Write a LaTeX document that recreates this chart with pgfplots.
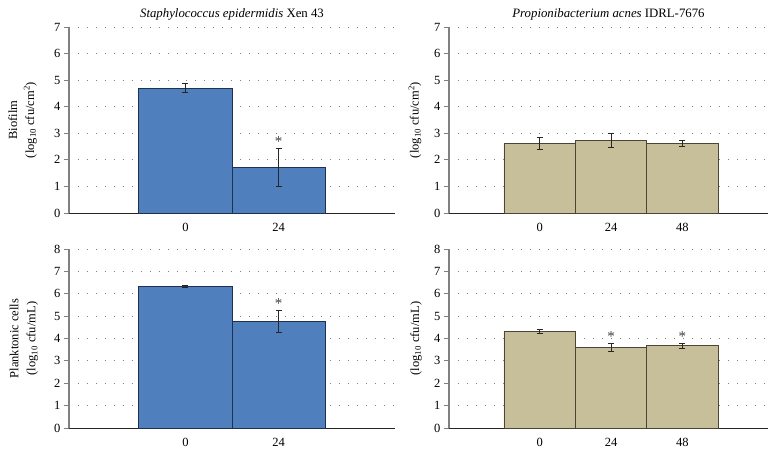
\documentclass[border=0pt]{standalone}
\usepackage{pgfplots}
\pgfplotsset{compat=1.18}
\usepackage{fontspec}
\setmainfont{Liberation Serif}
\definecolor{sblue}{HTML}{4F7FBD}
\definecolor{sblueedge}{HTML}{1F3050}
\definecolor{stan}{HTML}{C6BF9A}
\definecolor{stanedge}{HTML}{4A4535}

\pgfplotsset{
  panel/.style={
    scale only axis,
    axis lines=left,
    ymin=0, ytick distance=1,
    ymajorgrids,
    major grid style={draw=gray, line width=0.8pt, dash pattern=on 0.8pt off 8.2pt},
    tick align=outside, major tick length=5pt,
    ytick style={gray, line width=1pt},
    xtick style={draw=none},
    y axis line style={-, gray, line width=1.3pt},
    x axis line style={-, black!85, line width=1pt},
    tick label style={font=\fontsize{12.5}{14}\selectfont},
    xticklabel style={yshift=-2pt},
    /pgf/number format/assume math mode=true,
    ylabel style={rotate=0, anchor=center, align=center, font=\fontsize{12.5}{17}\selectfont},
    title style={at={(axis description cs:0.5,1)}, anchor=base, yshift=4pt, font=\fontsize{12.8}{14}\selectfont},
    clip=false,
  },
  ast/.style={draw=none, mark=none, nodes near coords={*},
    every node near coord/.style={anchor=south, inner sep=0pt, yshift=1.5pt, font=\fontsize{15}{16}\selectfont, black!75}},
  ebar/.style={error bars/.cd, y dir=both, y explicit,
    error bar style={black!85, line width=0.9pt},
    error mark options={black!85, line width=0.9pt, mark size=3pt, rotate=90}},
}

\begin{document}
\begin{tikzpicture}[x=1pt,y=1pt]
\useasboundingbox (0,0) rectangle (780,451);

% top left
\begin{axis}[panel, at={(69pt,238pt)}, anchor=south west,
  width=326pt, height=186pt, xmin=-1.25, xmax=2.25, ymax=7,
  xtick={0,1}, xticklabels={0,24},
  title={\textit{Staphylococcus epidermidis} Xen 43},
  ylabel={Biofilm\\(log\textsubscript{10} cfu/cm\textsuperscript{2})},
  ylabel style={at={(axis description cs:-0.1426,0.5)}}]
\addplot[ybar, bar width=1, bar shift=0, fill=sblue, draw=sblueedge, line width=0.8pt, ebar]
  coordinates {(0,4.69) +- (0,0.17) (1,1.72) +- (0,0.72)};
\addplot[ast] coordinates {(1,2.44)};
\end{axis}

% top right
\begin{axis}[panel, at={(449pt,238pt)}, anchor=south west,
  width=319pt, height=186pt, xmin=-1.27, xmax=3.2, ymax=7,
  xtick={0,1,2}, xticklabels={0,24,48},
  title={\textit{Propionibacterium acnes} IDRL-7676},
  ylabel={(log\textsubscript{10} cfu/cm\textsuperscript{2})},
  ylabel style={at={(axis description cs:-0.1066,0.5)}}]
\addplot[ybar, bar width=1, bar shift=0, fill=stan, draw=stanedge, line width=0.8pt, ebar]
  coordinates {(0,2.63) +- (0,0.22) (1,2.72) +- (0,0.26) (2,2.61) +- (0,0.11)};
\end{axis}

% bottom left
\begin{axis}[panel, at={(69pt,23pt)}, anchor=south west,
  width=326pt, height=179pt, xmin=-1.25, xmax=2.25, ymax=8,
  xtick={0,1}, xticklabels={0,24},
  ylabel={Planktonic cells\\(log\textsubscript{10} cfu/mL)},
  ylabel style={at={(axis description cs:-0.138,0.5)}}]
\addplot[ybar, bar width=1, bar shift=0, fill=sblue, draw=sblueedge, line width=0.8pt, ebar]
  coordinates {(0,6.33) +- (0,0.03) (1,4.75) +- (0,0.5)};
\addplot[ast] coordinates {(1,5.27)};
\end{axis}

% bottom right
\begin{axis}[panel, at={(449pt,23pt)}, anchor=south west,
  width=319pt, height=179pt, xmin=-1.27, xmax=3.2, ymax=8,
  xtick={0,1,2}, xticklabels={0,24,48},
  ylabel={(log\textsubscript{10} cfu/mL)},
  ylabel style={at={(axis description cs:-0.103,0.5)}}]
\addplot[ybar, bar width=1, bar shift=0, fill=stan, draw=stanedge, line width=0.8pt, ebar]
  coordinates {(0,4.32) +- (0,0.08) (1,3.6) +- (0,0.18) (2,3.68) +- (0,0.11)};
\addplot[ast] coordinates {(1,3.78) (2,3.79)};
\end{axis}
\end{tikzpicture}
\end{document}
